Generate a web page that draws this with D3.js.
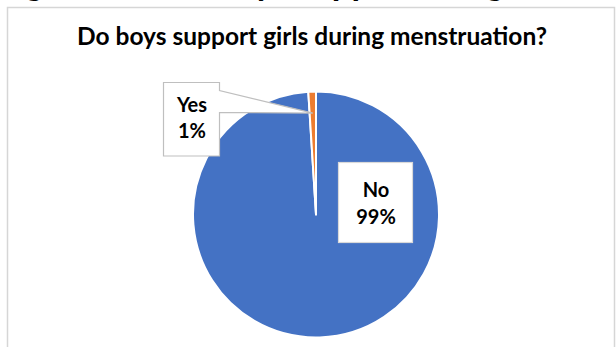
<!DOCTYPE html>
<html>
<head>
<meta charset="utf-8">
<script src="https://cdn.jsdelivr.net/npm/d3@7"></script>
<style>
  html, body { margin: 0; padding: 0; background: #fff; }
  svg { display: block; }
  text { font-family: Lato, "Open Sans", sans-serif; font-weight: 700; fill: #000; }
</style>
</head>
<body>
<svg id="chart" width="616" height="347"></svg>
<script>
// Survey answers
const categories = ["No", "Yes"];
const values = [99, 1];
const colors = ["#4472C4", "#ED7D31"];
const title = "Do boys support girls during menstruation?";
const caption = "Figure 10: Do boys support the girls during menstruation?";

const svg = d3.select("#chart");

// page caption above the chart frame (runs off the top edge)
const cap = svg.append("text")
  .attr("x", 0).attr("y", -3)
  .style("font-size", "31px")
  .text(caption);
{
  const n = cap.node();
  const i0 = 2, i1 = caption.indexOf("girls");
  const span = n.getStartPositionOfChar(i1).x - n.getStartPositionOfChar(i0).x;
  const fs = 31 * 461 / span;
  cap.style("font-size", fs + "px");
  const g0 = n.getStartPositionOfChar(i0).x;
  cap.attr("x", 25 - g0).attr("y", -0.25 * fs + 3.5);
}

// chart frame
svg.append("rect")
  .attr("x", 7.5).attr("y", 7.5)
  .attr("width", 607).attr("height", 360)
  .attr("fill", "#fff")
  .attr("stroke", "#d6d6d6")
  .attr("stroke-width", 1.5);

// title, sized to its measured span
const t = svg.append("text")
  .attr("x", 312).attr("y", 45)
  .attr("text-anchor", "middle")
  .style("font-size", "22px")
  .text(title);
const tw = t.node().getComputedTextLength();
t.style("font-size", (22 * 470 / tw) + "px");

// pie
const cx = 316, cy = 214.5, r = 123;
const pie = d3.pie().sort(null).value(d => d.value);
const data = pie(categories.map((c, i) => ({ cat: c, value: values[i], color: colors[i] })));
const arc = d3.arc().innerRadius(0).outerRadius(r);
const g = svg.append("g").attr("transform", `translate(${cx},${cy})`);

g.selectAll("path.slice")
  .data(data)
  .join("path")
  .attr("class", "slice")
  .attr("d", arc)
  .attr("fill", d => d.data.color)
  .attr("stroke", "#fff")
  .attr("stroke-width", 2)
  .attr("stroke-linejoin", "round");

// anchor point for the callout of the thin slice
const anchorArc = d3.arc().innerRadius(r * 0.65).outerRadius(r);

function labelLines(d) {
  return [d.data.cat, d.data.value + "%"];
}

// "Yes" callout box with leader wedge
const yes = data[1];
const [ax, ay] = anchorArc.centroid(yes);
const yb = { x: 163.5, y: 82.5, w: 56, h: 73.5 };
const gy = svg.append("g");
const bx = yb.x + yb.w;
const wedgeTop = 90.5, wedgeBot = 112.5;
gy.append("path")
  .attr("d", `M${yb.x},${yb.y} H${bx} V${wedgeTop} L${cx + ax},${cy + ay} L${bx},${wedgeBot} V${yb.y + yb.h} H${yb.x} Z`)
  .attr("fill", "#fff")
  .attr("stroke", "#bfbfbf")
  .attr("stroke-width", 1.2);
labelLines(yes).forEach((s, i) => {
  gy.append("text")
    .attr("x", yb.x + yb.w / 2 + 0.5)
    .attr("y", 112 + i * 26)
    .attr("text-anchor", "middle")
    .style("font-size", "20px")
    .text(s);
});

// "No" label box inside its slice
const no = data[0];
const nb = { x: 338.5, y: 162.5, w: 74, h: 80 };
const gn = svg.append("g");
gn.append("rect")
  .attr("x", nb.x).attr("y", nb.y)
  .attr("width", nb.w).attr("height", nb.h)
  .attr("fill", "#fff")
  .attr("stroke", "#d9d9d9")
  .attr("stroke-width", 1.2);
labelLines(no).forEach((s, i) => {
  gn.append("text")
    .attr("x", nb.x + nb.w / 2 + 0.5)
    .attr("y", 197 + i * 27)
    .attr("text-anchor", "middle")
    .style("font-size", "20px")
    .text(s);
});
</script>
</body>
</html>
